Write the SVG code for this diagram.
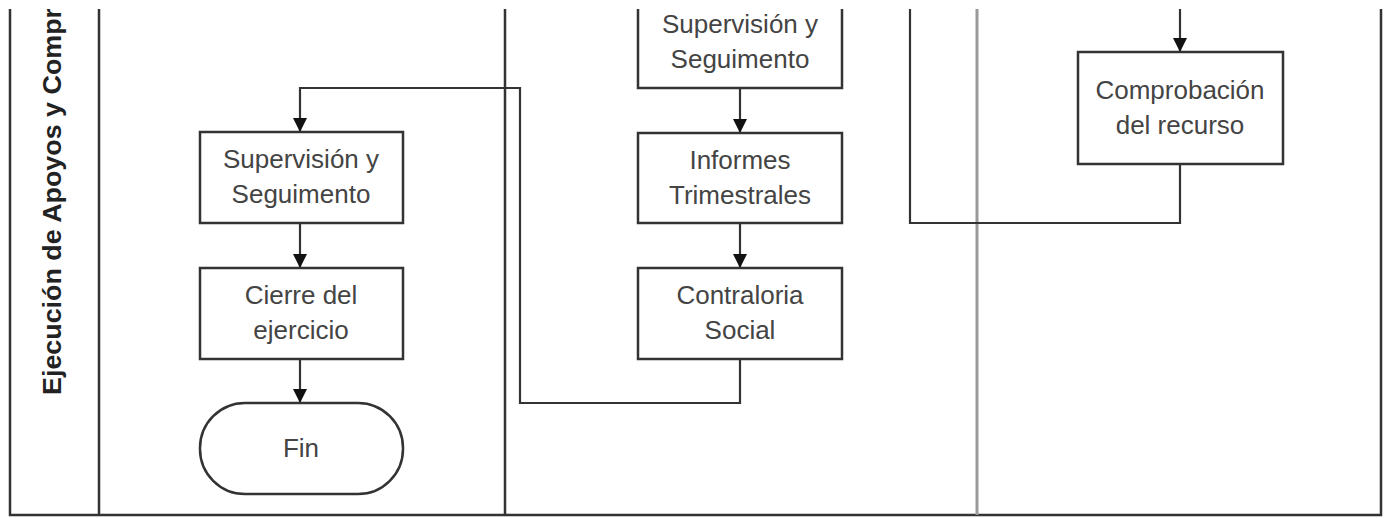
<svg xmlns="http://www.w3.org/2000/svg" width="1391" height="518" viewBox="0 0 1391 518">
<style>
.box{fill:#fff;stroke:#333;stroke-width:2.5}
.lbl{font-family:"Liberation Sans",Arial,sans-serif;font-size:26px;fill:#444;text-anchor:middle}
.lane{fill:none;stroke:#333;stroke-width:2.5}
.con{fill:none;stroke:#333;stroke-width:2.2}
.hdr{font-family:"Liberation Sans",Arial,sans-serif;font-size:25px;font-weight:bold;fill:#222}
</style>
<defs>
<clipPath id="clip"><rect x="0" y="9" width="1391" height="509"/></clipPath>
<marker id="arr" viewBox="0 0 10 10" refX="10" refY="5" markerWidth="14" markerHeight="14" markerUnits="userSpaceOnUse" orient="auto"><path d="M0,0 L10,5 L0,10 Z" fill="#111"/></marker>
</defs>
<rect width="1391" height="518" fill="#fff"/>
<g clip-path="url(#clip)">
<g id="pool">
<path class="lane" d="M10,0 V515 H1381 V0"/>
<line class="lane" x1="99" y1="0" x2="99" y2="515"/>
<line class="lane" x1="505" y1="0" x2="505" y2="515"/>
<line x1="977" y1="0" x2="977" y2="515" stroke="#999" stroke-width="3"/>
<text class="hdr" transform="translate(61,395) rotate(-90) scale(1.075,1)">Ejecución de Apoyos y Compr</text>
</g>
<g id="connectors">
<path class="con" d="M740,359 V403 H520 V88 H300 V132" marker-end="url(#arr)"/>
<path class="con" d="M300,223 V268" marker-end="url(#arr)"/>
<path class="con" d="M300,359 V403" marker-end="url(#arr)"/>
<path class="con" d="M740,88 V133" marker-end="url(#arr)"/>
<path class="con" d="M740,223 V268" marker-end="url(#arr)"/>
<path class="con" d="M1180,0 V52" marker-end="url(#arr)"/>
<path class="con" d="M1180,164 V223 H910 V0"/>
</g>
<g id="n-sup-left">
<rect class="box" x="200" y="132" width="203" height="91"/>
<text class="lbl" x="301" y="168">Supervisión y</text>
<text class="lbl" x="301" y="203">Seguimento</text>
</g>
<g id="n-cierre">
<rect class="box" x="200" y="268" width="203" height="91"/>
<text class="lbl" x="301" y="304">Cierre del</text>
<text class="lbl" x="301" y="339">ejercicio</text>
</g>
<g id="n-fin">
<rect class="box" x="200" y="403" width="203" height="91" rx="45" ry="45"/>
<text class="lbl" x="301" y="457">Fin</text>
</g>
<g id="n-sup-mid">
<rect class="box" x="638" y="-10" width="204" height="98"/>
<text class="lbl" x="740" y="33">Supervisión y</text>
<text class="lbl" x="740" y="68">Seguimento</text>
</g>
<g id="n-informes">
<rect class="box" x="638" y="133" width="204" height="90"/>
<text class="lbl" x="740" y="169">Informes</text>
<text class="lbl" x="740" y="204">Trimestrales</text>
</g>
<g id="n-contraloria">
<rect class="box" x="638" y="268" width="204" height="91"/>
<text class="lbl" x="740" y="304">Contraloria</text>
<text class="lbl" x="740" y="339">Social</text>
</g>
<g id="n-comprobacion">
<rect class="box" x="1078" y="52" width="205" height="112"/>
<text class="lbl" x="1180" y="99">Comprobación</text>
<text class="lbl" x="1180" y="134">del recurso</text>
</g>
</g>
</svg>
